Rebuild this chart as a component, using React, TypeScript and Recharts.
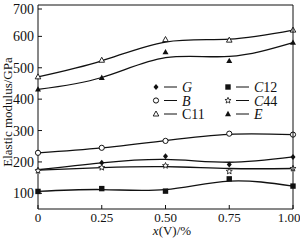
import React from 'react'
import { ComposedChart, Line, XAxis, YAxis } from 'recharts'

// x(V)/% positions
const X_VALUES = [0, 0.25, 0.5, 0.75, 1.0]

// measured points (markers)
const G_PTS = [174, 197, 218, 192, 216]
const B_PTS = [229, 245, 267, 290, 287]
const C11_PTS = [471, 524, 590, 588, 620]
const C12_PTS = [106, 115, 107, 146, 123]
const C44_PTS = [172, 182, 188, 170, 179]
const E_PTS = [431, 468, 550, 522, 580]

// fitted curves
const G_FIT = [175, 197, 208, 199, 216]
const B_FIT = [229, 245, 268, 288, 287]
const C11_FIT = [471, 522, 582, 591, 620]
const C12_FIT = [106, 112, 112, 139, 123]
const C44_FIT = [174, 182, 185, 179, 179]
const E_FIT = [431, 469, 532, 536, 580]

const X_TICKS = [0, 0.25, 0.5, 0.75, 1.0]
const X_TICK_LABELS = ['0', '0.25', '0.50', '0.75', '1.00']
const Y_TICKS = [100, 200, 300, 400, 500, 600, 700]

const SERIES = [
  { key: 'G', label: 'G', italic: true, pts: G_PTS, fit: G_FIT, shape: 'diamond' },
  { key: 'B', label: 'B', italic: true, pts: B_PTS, fit: B_FIT, shape: 'circle' },
  { key: 'C11', label: 'C11', italic: false, pts: C11_PTS, fit: C11_FIT, shape: 'triangleOpen' },
  { key: 'C12', label: 'C12', italic: true, pts: C12_PTS, fit: C12_FIT, shape: 'square' },
  { key: 'C44', label: 'C44', italic: true, pts: C44_PTS, fit: C44_FIT, shape: 'star' },
  { key: 'E', label: 'E', italic: true, pts: E_PTS, fit: E_FIT, shape: 'triangle' },
]

const data = X_VALUES.map((x, i) => {
  const row: Record<string, number> = { x }
  SERIES.forEach(s => {
    row[s.key] = s.pts[i]
    row[s.key + 'Fit'] = s.fit[i]
  })
  return row
})

const INK = '#111'
const FONT = '"Liberation Serif", "DejaVu Serif", serif'

function Marker({ shape, cx, cy }: { shape: string; cx: number; cy: number }) {
  if (cx == null || cy == null) return null
  switch (shape) {
    case 'diamond':
      return <path d={`M${cx},${cy - 3} L${cx + 2.5},${cy} L${cx},${cy + 3} L${cx - 2.5},${cy} Z`} fill={INK} />
    case 'circle':
      return <circle cx={cx} cy={cy} r={2.6} fill="#fff" stroke={INK} strokeWidth={1} />
    case 'triangleOpen':
      return <path d={`M${cx},${cy - 3} L${cx + 2.8},${cy + 2} L${cx - 2.8},${cy + 2} Z`} fill="#fff" stroke={INK} strokeWidth={0.9} />
    case 'triangle':
      return <path d={`M${cx},${cy - 3.2} L${cx + 3},${cy + 2.2} L${cx - 3},${cy + 2.2} Z`} fill={INK} />
    case 'square':
      return <rect x={cx - 2.7} y={cy - 2.7} width={5.4} height={5.4} fill={INK} />
    case 'star': {
      const pts: string[] = []
      for (let k = 0; k < 10; k++) {
        const r = k % 2 === 0 ? 3.2 : 1.4
        const a = -Math.PI / 2 + (k * Math.PI) / 5
        pts.push(`${cx + r * Math.cos(a)},${cy + r * Math.sin(a)}`)
      }
      return <polygon points={pts.join(' ')} fill="#fff" stroke={INK} strokeWidth={0.8} />
    }
    default:
      return null
  }
}

// recharts hands the tick position already pushed 8px away from the axis
function XTick({ x, y, payload }: any) {
  const i = X_TICKS.indexOf(payload.value)
  const ay = y - 8
  // last label sits against the right edge of the picture
  const tx = i === X_TICKS.length - 1 ? x - 4 : x
  return (
    <g>
      <line x1={x} x2={x} y1={ay - 4} y2={ay} stroke={INK} strokeWidth={1} />
      <text x={tx} y={ay + 12.5} textAnchor="middle" fontSize={13} fontFamily={FONT} fill={INK}>
        {X_TICK_LABELS[i]}
      </text>
    </g>
  )
}

function YTick({ x, y, payload }: any) {
  const ax = x + 8
  return (
    <g>
      <line x1={ax} x2={ax + 4} y1={y} y2={y} stroke={INK} strokeWidth={1} />
      <text x={ax - 4} y={y + 5} textAnchor="end" fontSize={14} fontFamily={FONT} fill={INK}>
        {payload.value}
      </text>
    </g>
  )
}

function LegendItem({ s, x, y }: { s: typeof SERIES[number]; x: number; y: number }) {
  return (
    <g>
      <Marker shape={s.shape} cx={x} cy={y} />
      <line x1={x + 8} x2={x + 21} y1={y} y2={y} stroke={INK} strokeWidth={1} />
      <text x={x + 26} y={y + 5} fontSize={14} fontFamily={FONT} fill={INK} fontStyle={s.italic ? 'italic' : 'normal'}>
        {s.label === 'C11' ? 'C11' : s.label.startsWith('C') ? (
          <>
            <tspan fontStyle="italic">C</tspan>
            <tspan fontStyle="normal">{s.label.slice(1)}</tspan>
          </>
        ) : s.label}
      </text>
    </g>
  )
}

export default function App() {
  const left = [SERIES[0], SERIES[1], SERIES[2]]
  const right = [SERIES[3], SERIES[4], SERIES[5]]
  return (
    <div style={{ position: 'absolute', left: 0, top: 0, width: 300, height: 240, background: '#fff' }}>
      <ComposedChart width={300} height={240} data={data} margin={{ top: 5, right: 7, bottom: 0, left: 0 }}>
        <XAxis
          dataKey="x"
          type="number"
          domain={[0, 1]}
          ticks={X_TICKS}
          tick={<XTick />}
          tickLine={false}
          axisLine={{ stroke: INK }}
          height={31}
        />
        <YAxis
          type="number"
          domain={[50, 700]}
          ticks={Y_TICKS}
          tick={<YTick />}
          tickLine={false}
          axisLine={{ stroke: INK }}
          width={38}
        />
        {SERIES.map(s => (
          <Line
            key={s.key + 'Fit'}
            dataKey={s.key + 'Fit'}
            type="natural"
            stroke={INK}
            strokeWidth={1.3}
            dot={false}
            activeDot={false}
            isAnimationActive={false}
          />
        ))}
        {SERIES.map(s => (
          <Line
            key={s.key}
            dataKey={s.key}
            stroke="none"
            dot={(p: any) => <Marker key={s.key + p.index} shape={s.shape} cx={p.cx} cy={p.cy} />}
            activeDot={false}
            isAnimationActive={false}
          />
        ))}
      </ComposedChart>
      <svg width={300} height={240} style={{ position: 'absolute', left: 0, top: 0, pointerEvents: 'none' }}>
        {/* frame top and right */}
        <line x1={38} x2={293} y1={5} y2={5} stroke={INK} strokeWidth={1} />
        <line x1={293} x2={293} y1={5} y2={209} stroke={INK} strokeWidth={1} />
        {left.map((s, i) => <LegendItem key={s.key} s={s} x={156} y={87 + i * 13.5} />)}
        {right.map((s, i) => <LegendItem key={s.key} s={s} x={228} y={87 + i * 13.5} />)}
        <text x={12} y={112} transform="rotate(-90 12 112)" textAnchor="middle" fontSize={13} fontFamily={FONT} fill={INK}>
          Elastic modulus/GPa
        </text>
        <text x={172} y={235} textAnchor="middle" fontSize={13} fontFamily={FONT} fill={INK}>
          <tspan fontStyle="italic">x</tspan>(V)/%
        </text>
      </svg>
    </div>
  )
}
